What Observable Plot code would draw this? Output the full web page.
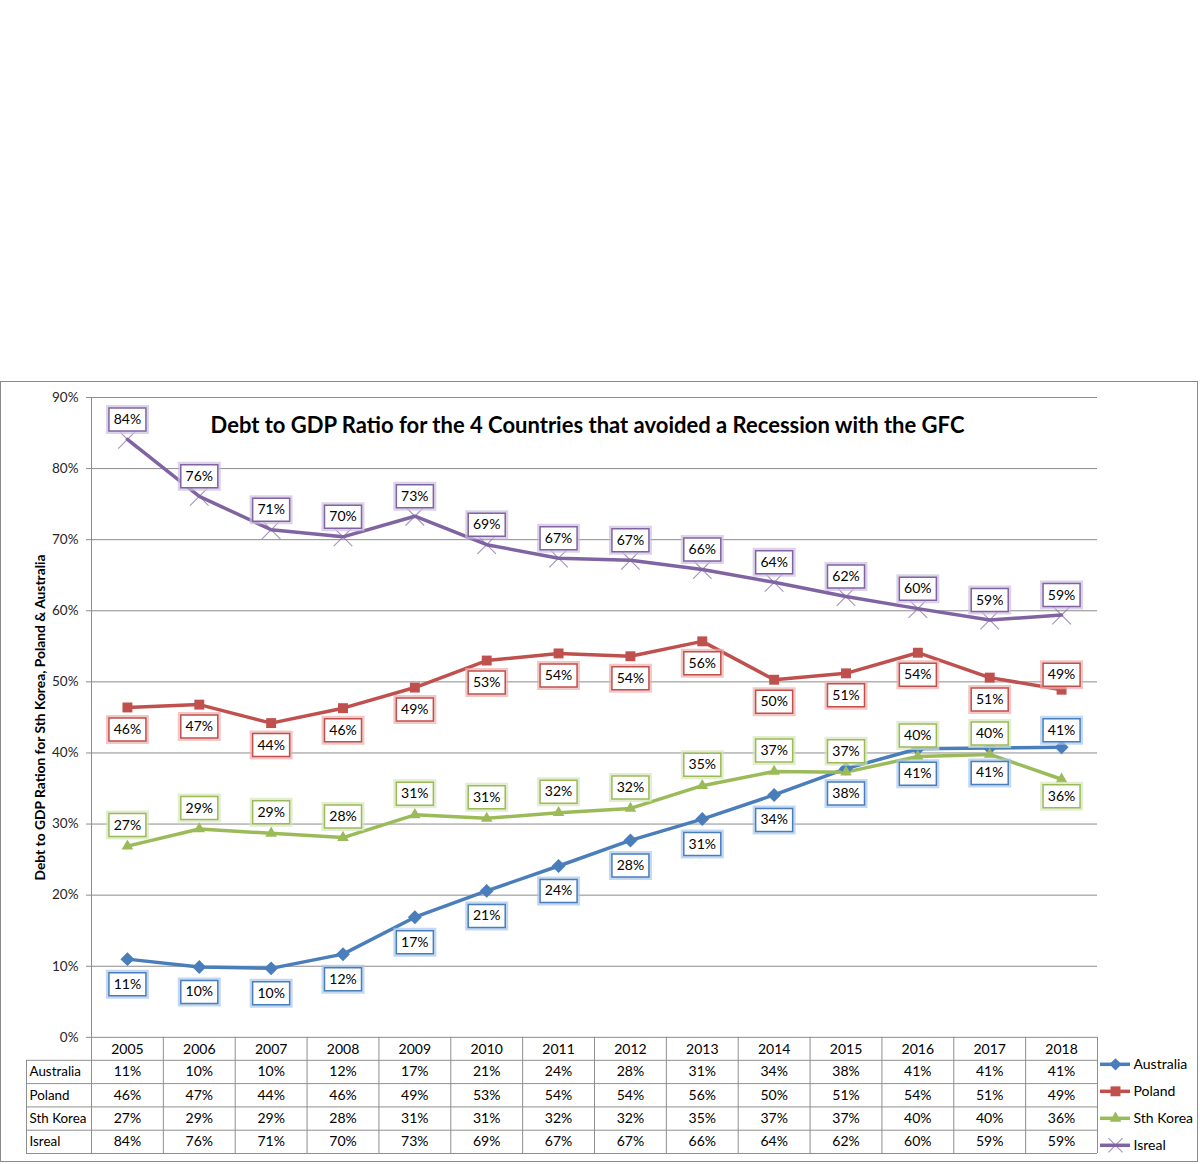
<!DOCTYPE html>
<html>
<head>
<meta charset="utf-8">
<script src="https://cdn.jsdelivr.net/npm/d3@7"></script>
<script src="https://cdn.jsdelivr.net/npm/@observablehq/plot@0.6"></script>
<style>
  html, body { margin: 0; padding: 0; background: #fff; }
  #frame { position: absolute; left: 0; top: 381px; width: 1196px; height: 779px; border: 1px solid #8a8a8a; background: #fff; }
  #frame svg { display: block; }
</style>
</head>
<body>
<div id="frame"></div>
<script>
// ---------------- data ----------------
const years = [2005, 2006, 2007, 2008, 2009, 2010, 2011, 2012, 2013, 2014, 2015, 2016, 2017, 2018];
const seriesNames = ["Australia", "Poland", "Sth Korea", "Isreal"];
const australia = [11.0, 9.9, 9.7, 11.7, 16.9, 20.6, 24.1, 27.7, 30.7, 34.1, 37.8, 40.6, 40.7, 40.8];
const poland    = [46.4, 46.8, 44.2, 46.3, 49.2, 53.0, 54.0, 53.6, 55.7, 50.3, 51.2, 54.1, 50.6, 48.9];
const korea     = [26.9, 29.3, 28.7, 28.1, 31.3, 30.8, 31.6, 32.2, 35.4, 37.4, 37.3, 39.5, 39.8, 36.3];
const israel    = [84.1, 76.1, 71.4, 70.4, 73.3, 69.3, 67.4, 67.1, 65.8, 64.0, 62.0, 60.3, 58.7, 59.4];
const yTicks = [0, 10, 20, 30, 40, 50, 60, 70, 80, 90];
const title = "Debt to GDP Ratio for the 4 Countries that avoided a Recession with the GFC";
const yLabel = "Debt to GDP Ration for Sth Korea, Poland & Australia";

const seriesValues = [australia, poland, korea, israel];
const rows = seriesNames.flatMap((name, si) =>
  years.map((year, i) => ({series: name, year, i, value: seriesValues[si][i]})));
const pct = d => Math.round(d.value) + "%";

// ---------------- styles / layout ----------------
const style = {
  "Australia": {color: "#4A7EBB", glow: "#A9C8EC", symbol: "diamond2", r: 6.3, lr: 5.5, up: -17, down: 25},
  "Poland":    {color: "#C0504D", glow: "#EBB0AE", symbol: "square",   r: 5.6, lr: 5.6, up: -15, down: 22},
  "Sth Korea": {color: "#9BBB59", glow: "#D7E6BE", symbol: "triangle", r: 4.3, lr: 4.3, up: -21, down: 17},
  "Isreal":    {color: "#8064A2", glow: "#CDBFE0", symbol: "times",    r: 8.5, lr: 6.5, up: -20, down: 20}
};
const W = 1196, H = 779;
const mL = 90, mR = 100, mT = 15, mB = 8;
const xMin = 2004.5, xMax = 2018.5;
const pxPerPct = 640 / 90;                       // 90% spans 640px
const pxPerYear = (W - mL - mR) / (xMax - xMin);
const uy = px => px / pxPerPct;
const ux = px => px / pxPerYear;
const yBottom = -uy(116.2);
const gridColor = "#8c8c8c";
const tableColor = "#8f8f8f";
const font = "Lato, 'Open Sans', sans-serif";
const fs = 14;

const below = (name, i) =>
  (name === "Australia" || name === "Poland") ? i !== years.length - 1
  : name === "Sth Korea" ? i === years.length - 1 : false;

const boxSymbol = {draw(ctx) { ctx.rect(-18.5, -11.5, 37, 23); }};

const marks = [];
// grid & axis
marks.push(Plot.ruleY(yTicks, {x1: xMin, x2: xMax, stroke: gridColor, strokeWidth: 1}));
marks.push(Plot.ruleX([xMin], {y1: 0, y2: 90, stroke: gridColor}));
marks.push(Plot.axisY(yTicks, {anchor: "left", tickSize: 5, tickPadding: 8, tickFormat: d => d + "%",
  fontSize: 13.5, fill: "#262626", stroke: gridColor, label: null}));

// table lines
const rowLinesPx = [23, 46.3, 69.6, 92.9, 116.2];
marks.push(Plot.ruleY(rowLinesPx.map(p => -uy(p)), {x1: xMin - ux(65), x2: xMax, stroke: tableColor}));
marks.push(Plot.ruleX(d3.range(xMin, xMax + 0.01, 1), {y1: 0, y2: yBottom, stroke: tableColor}));
marks.push(Plot.ruleX([xMin - ux(65)], {y1: -uy(23), y2: yBottom, stroke: tableColor}));

// table text
marks.push(Plot.text(years, {x: d => d, y: () => 0, dy: 12, text: d => String(d), fontSize: fs, fill: "#000"}));
const rowCentersPx = [34.5, 58, 81.3, 104.5];
seriesNames.forEach((name, si) => {
  const data = rows.filter(d => d.series === name);
  marks.push(Plot.text(data, {x: "year", y: () => 0, dy: rowCentersPx[si], text: pct, fontSize: fs, fill: "#000"}));
  marks.push(Plot.text([name], {x: () => xMin, y: () => 0, dx: -62, dy: rowCentersPx[si], text: d => d,
    textAnchor: "start", fontSize: 13.4, fill: "#000"}));
});

// lines and markers
seriesNames.forEach(name => {
  const s = style[name];
  const data = rows.filter(d => d.series === name);
  marks.push(Plot.line(data, {x: "year", y: "value", stroke: s.color, strokeWidth: 3.5, curve: "linear"}));
});
seriesNames.forEach(name => {
  const s = style[name];
  const data = rows.filter(d => d.series === name);
  if (s.symbol === "times") {
    marks.push(Plot.dot(data, {x: "year", y: "value", symbol: "times", r: s.r, stroke: s.color, strokeWidth: 1.1, fill: "none", strokeOpacity: 0.7}));
  } else {
    marks.push(Plot.dot(data, {x: "year", y: "value", symbol: s.symbol, r: s.r, fill: s.color, stroke: "none"}));
  }
});

// data labels
seriesNames.forEach(name => {
  const s = style[name];
  const data = rows.filter(d => d.series === name);
  [[data.filter(d => !below(name, d.i)), s.up], [data.filter(d => below(name, d.i)), s.down]].forEach(([part, dy]) => {
    if (!part.length) return;
    marks.push(Plot.dot(part, {x: "year", y: "value", dy, symbol: boxSymbol, r: 5, fill: "none", stroke: s.glow, strokeWidth: 6, strokeOpacity: 0.7}));
    marks.push(Plot.dot(part, {x: "year", y: "value", dy, symbol: boxSymbol, r: 5, fill: "#fff", stroke: s.color, strokeWidth: 1.5}));
    marks.push(Plot.text(part, {x: "year", y: "value", dy, text: pct, fontSize: fs, fill: "#000"}));
  });
});

// legend
const legendPx = [27, 54, 81, 108];
seriesNames.forEach((name, si) => {
  const s = style[name];
  const ly = -uy(legendPx[si]);
  marks.push(Plot.ruleY([ly], {x1: xMax + ux(3), x2: xMax + ux(33), stroke: s.color, strokeWidth: 3.5}));
  if (s.symbol === "times") {
    marks.push(Plot.dot([ly], {x: () => xMax + ux(18), y: d => d, symbol: "times", r: s.lr, stroke: s.color, strokeWidth: 1.1, fill: "none", strokeOpacity: 0.7}));
  } else {
    marks.push(Plot.dot([ly], {x: () => xMax + ux(18), y: d => d, symbol: s.symbol, r: s.lr, fill: s.color, stroke: "none"}));
  }
  marks.push(Plot.text([name], {x: () => xMax + ux(36), y: () => ly, text: d => d, textAnchor: "start", fontSize: fs, fill: "#000"}));
});

// title and y label
marks.push(Plot.text([title], {frameAnchor: "top", dx: -7, dy: 28, lineAnchor: "middle", text: d => d,
  fontSize: 22, fontWeight: "bold", fill: "#000"}));
marks.push(Plot.text([yLabel], {x: () => xMin, y: () => 45, dx: -51, rotate: -90, text: d => d,
  fontSize: 13.8, fontWeight: "bold", fill: "#000"}));

const chart = Plot.plot({
  width: W, height: H,
  marginLeft: mL, marginRight: mR, marginTop: mT, marginBottom: mB,
  x: {domain: [xMin, xMax], axis: null},
  y: {domain: [yBottom, 90], axis: null},
  style: {fontFamily: font, background: "#fff", overflow: "visible"},
  marks
});
document.getElementById("frame").appendChild(chart);
</script>
</body>
</html>
